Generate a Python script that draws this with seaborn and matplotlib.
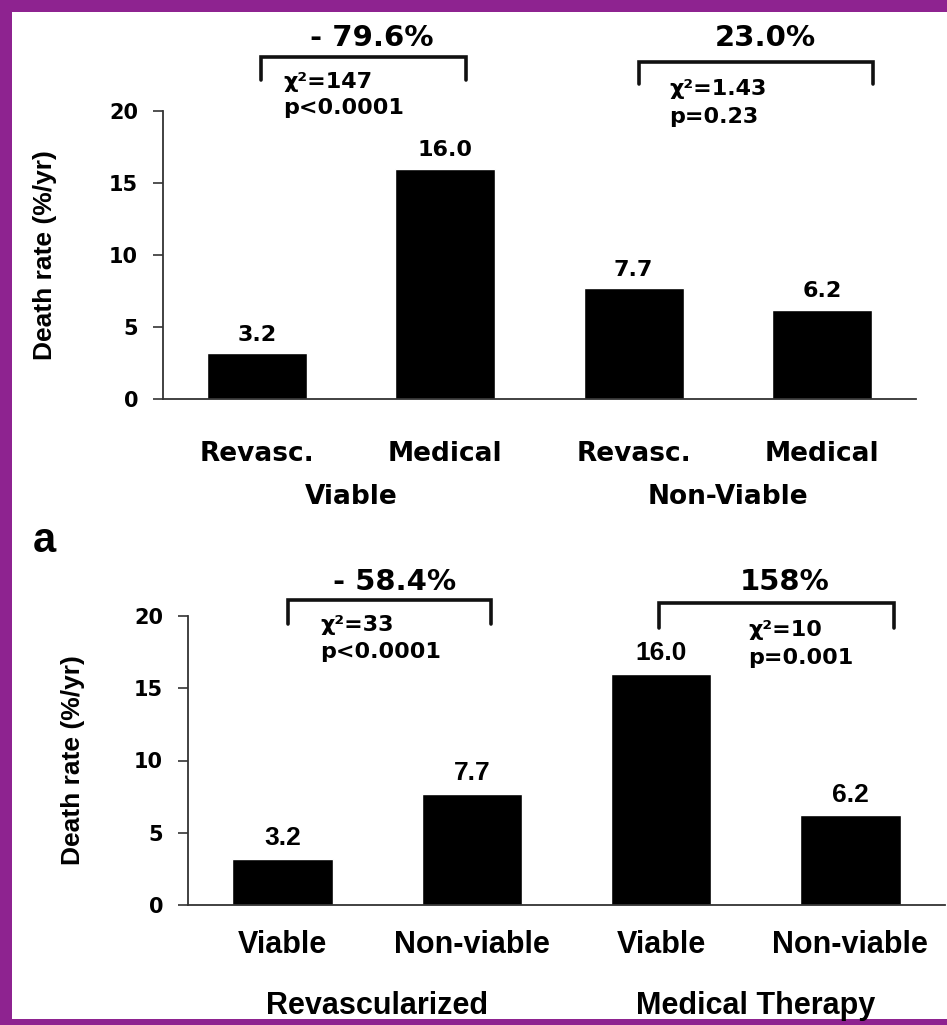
import numpy as np
import matplotlib
matplotlib.use("Agg")
import matplotlib.pyplot as plt
import matplotlib.patches as mpatches
import seaborn as sns
import pandas as pd

# panel 1: by viability status
top_groups = ['Viable', 'Non-Viable']
top_cats = ['Revasc.', 'Medical', 'Revasc.', 'Medical']
top_rates = [3.2, 16.0, 7.7, 6.2]
top_change = ['- 79.6%', '23.0%']
top_chi = ['\u03c7\u00b2=147', '\u03c7\u00b2=1.43']
top_p = ['p<0.0001', 'p=0.23']

# panel 2: by treatment
bot_groups = ['Revascularized', 'Medical Therapy']
bot_cats = ['Viable', 'Non-viable', 'Viable', 'Non-viable']
bot_rates = [3.2, 7.7, 16.0, 6.2]
bot_change = ['- 58.4%', '158%']
bot_chi = ['\u03c7\u00b2=33', '\u03c7\u00b2=10']
bot_p = ['p<0.0001', 'p=0.001']

yticks = [0, 5, 10, 15, 20]

sns.set_style('white')
plt.rcParams['font.family'] = ['DejaVu Sans']
plt.rcParams['text.color'] = 'black'
plt.rcParams['axes.labelcolor'] = 'black'
plt.rcParams['xtick.color'] = 'black'
plt.rcParams['ytick.color'] = 'black'

WIDE = 'DejaVu Sans'
ARIAL = 'Liberation Sans'

fig = plt.figure(figsize=(9.47, 10.25), dpi=100)
fig.patch.set_facecolor('#8e2390')
fig.patches.append(mpatches.Rectangle((12 / 947, 6 / 1025), 1, 1 - 18 / 1025,
                                      transform=fig.transFigure, facecolor='white',
                                      edgecolor='none', zorder=-1))


def panel(rect, groups, cats, rates, label_font, label_size, val_font, val_size,
          cat_pad, group_y, ylab_x):
    ax = fig.add_axes(rect)
    ax.set_facecolor('none')
    df = pd.DataFrame({'bar': [g + ':' + c for g in groups for c in cats[:2]],
                       'rate': rates})
    sns.barplot(data=df, x='bar', y='rate', color='black', width=0.53,
                saturation=1, errorbar=None, ax=ax)
    ax.bar_label(ax.containers[0], fmt='%.1f', padding=6, fontsize=val_size,
                 fontweight='bold', family=val_font)
    ax.set_ylim(0, 20)
    ax.set_xlim(-0.5, 3.5)
    sns.despine(ax=ax)
    for s in ['left', 'bottom']:
        ax.spines[s].set_color('#333333')
        ax.spines[s].set_linewidth(1.3)
    ax.set_yticks(yticks)
    ax.set_yticklabels([str(t) for t in yticks], fontsize=15, fontweight='bold',
                       family=WIDE)
    ax.tick_params(axis='y', direction='out', length=7, width=1.2, pad=11,
                   left=True, color='#333333')
    ax.set_xticks(range(4))
    ax.set_xticklabels(cats, fontsize=label_size, fontweight='bold', family=label_font)
    ax.tick_params(axis='x', length=0, pad=cat_pad)
    ax.set_xlabel('')
    ax.set_ylabel('Death rate (%/yr)', fontsize=19, family=ARIAL, fontweight='bold')
    ax.yaxis.set_label_coords(ylab_x, 0.5)
    for i, g in enumerate(groups):
        ax.text(0.5 + 2 * i, group_y, g, transform=ax.get_xaxis_transform(),
                ha='center', va='center', fontsize=label_size, fontweight='bold',
                family=label_font)
    return ax


def bracket(ax, x0, x1, ytop, yleg, head, hx, hy, chi, p, sx, sy1, sy2):
    ax.plot([x0, x0, x1, x1], [yleg, ytop, ytop, yleg], color='#111111', lw=2.6,
            clip_on=False, solid_joinstyle='miter')
    ax.text(hx, hy, head, ha='center', va='center', fontsize=21, fontweight='bold',
            family=WIDE)
    ax.text(sx, sy1, chi, ha='left', va='center', fontsize=16, fontweight='bold',
            family=WIDE)
    ax.text(sx, sy2, p, ha='left', va='center', fontsize=16, fontweight='bold',
            family=WIDE)


ax1 = panel([163 / 947, 1 - 399 / 1025, 753 / 947, 288 / 1025], top_groups, top_cats,
            top_rates, WIDE, 19, WIDE, 16, 30, -0.34, -0.141)
bracket(ax1, 0.02, 1.11, 23.75, 22.15, top_change[0], 0.61, 25.05,
        top_chi[0], top_p[0], 0.14, 22.0, 20.2)
bracket(ax1, 2.03, 3.27, 23.4, 21.9, top_change[1], 2.70, 25.05,
        top_chi[1], top_p[1], 2.19, 21.5, 19.6)

ax2 = panel([188 / 947, 1 - 905 / 1025, 757 / 947, 289 / 1025], bot_groups, bot_cats,
            bot_rates, ARIAL, 22, ARIAL, 19, 18, -0.35, -0.136)
bracket(ax2, 0.03, 1.10, 21.1, 19.45, bot_change[0], 0.59, 22.35,
        bot_chi[0], bot_p[0], 0.20, 19.4, 17.5)
bracket(ax2, 1.99, 3.23, 20.9, 19.17, bot_change[1], 2.65, 22.35,
        bot_chi[1], bot_p[1], 2.46, 19.0, 17.1)

fig.text(33 / 947, 1 - 541 / 1025, 'a', ha='left', va='center', fontsize=30,
         fontweight='bold', family=ARIAL)

fig.savefig('out.png', dpi=100, facecolor=fig.get_facecolor())
